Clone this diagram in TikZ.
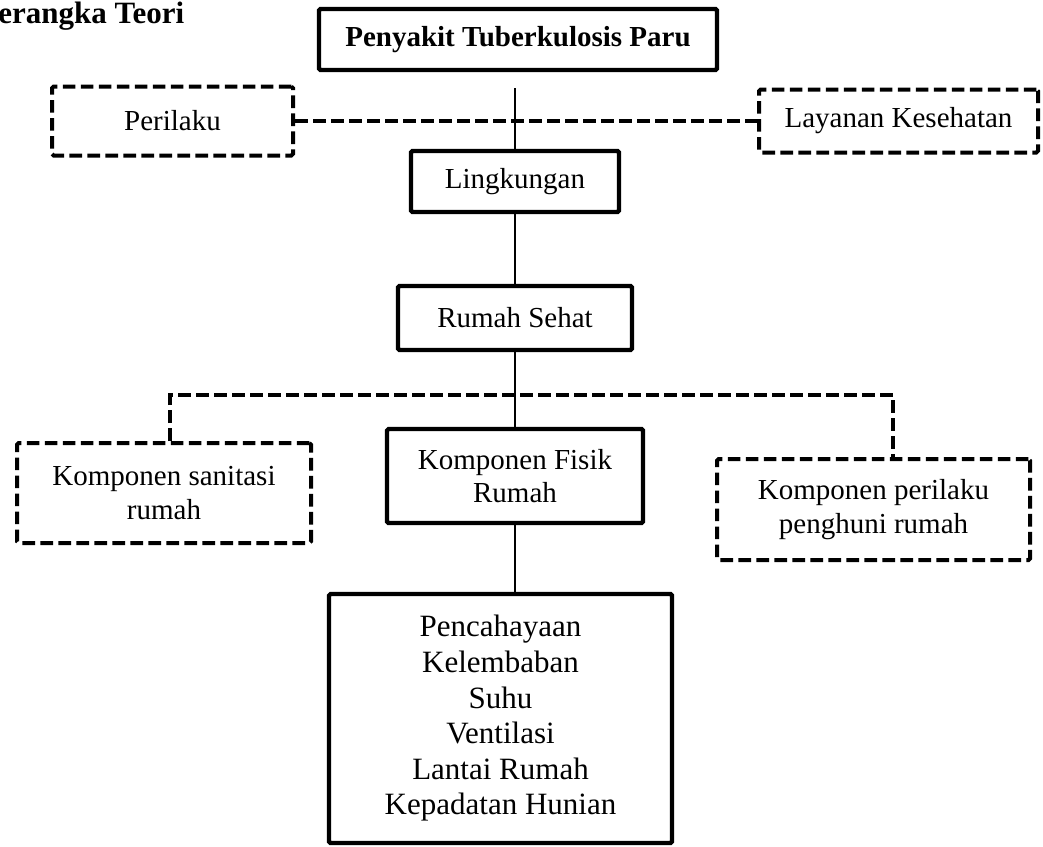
\documentclass[tikz,border=0pt]{standalone}
\usepackage{fontspec}
\setmainfont{Liberation Serif}
\begin{document}
\begin{tikzpicture}[x=0.5pt,y=-0.5pt,
		box/.style={draw,line width=2.2pt,rounded corners=0.8pt,align=center,inner sep=0pt,font=\fontsize{14.5}{16.7}\selectfont},
		dbox/.style={box,line width=2pt,dash pattern=on 6.3pt off 2.7pt},
		link/.style={line width=0.6pt},
		dlink/.style={line width=2pt,dash pattern=on 6.3pt off 2.7pt}]
		\useasboundingbox (0,0) rectangle (1043,846);
		\node[anchor=base west,inner sep=0pt,font=\fontsize{15.5}{17.8}\selectfont\bfseries] (judul) at (-2,23) {erangka Teori};
		\node[box,font=\fontsize{14.5}{16.7}\selectfont\bfseries,minimum width=199pt,minimum height=30.5pt] (tbparu) at (518,39.5) {Penyakit Tuberkulosis Paru};
		\node[dbox,minimum width=120.5pt,minimum height=34.5pt] (perilaku) at (172.5,121) {Perilaku};
		\node[dbox,minimum width=139.5pt,minimum height=31.5pt] (layanan) at (898.5,121) {Layanan Kesehatan};
		\node[box,minimum width=104pt,minimum height=30.5pt] (lingkungan) at (515,181.5) {Lingkungan};
		\node[box,minimum width=117pt,minimum height=32pt] (rumahsehat) at (515,318) {Rumah Sehat};
		\node[dbox,minimum width=147pt,minimum height=50pt] (sanitasi) at (164,493) {Komponen sanitasi\\rumah};
		\node[box,minimum width=128pt,minimum height=47pt] (fisik) at (515,476) {Komponen Fisik\\Rumah};
		\node[dbox,minimum width=156.5pt,minimum height=50.5pt] (penghuni) at (873.5,509.5) {Komponen perilaku\\penghuni rumah};
		\node[box,font=\fontsize{15.5}{17.8}\selectfont,minimum width=171.5pt,minimum height=124.5pt] (daftar) at (500.5,718.5) {Pencahayaan\\Kelembaban\\Suhu\\Ventilasi\\Lantai Rumah\\Kepadatan Hunian};
		\coordinate (ujung) at (515,88);
		\coordinate (kiri) at (170,395);
		\coordinate (kanan) at (893,395);
		\draw[dlink] (perilaku.east) -- (layanan.west);
		\draw[link] (ujung) -- (ujung |- lingkungan.north);
		\draw[link] (lingkungan.south) -- (rumahsehat.north);
		\draw[link] (rumahsehat.south) -- (fisik.north);
		\draw[dlink] (kiri |- sanitasi.north) -- (kiri) -- (kanan) -- (kanan |- penghuni.north);
		\draw[link] (fisik.south) -- (fisik.south |- daftar.north);
	\end{tikzpicture}
\end{document}
